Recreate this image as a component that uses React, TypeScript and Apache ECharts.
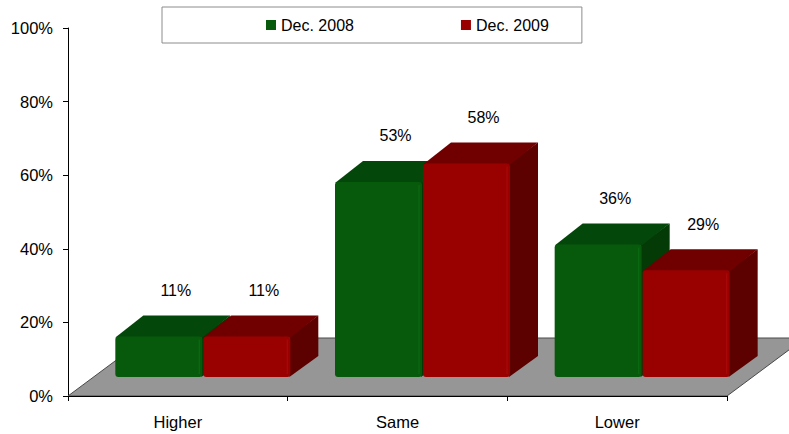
import React, { useEffect, useRef } from "react";
import * as echarts from "echarts";

const categories = ["Higher", "Same", "Lower"];
const seriesNames = ["Dec. 2008", "Dec. 2009"];
const dec2008 = [11, 53, 36];
const dec2009 = [11, 58, 29];
const yMin = 0;
const yMax = 100;
const yInterval = 20;

const palettes = [
  { front: "#075a0b", top: "#04470a", side: "#033a06", edge: "#0c6e12" },
  { front: "#990000", top: "#700000", side: "#5c0000", edge: "#ad0a0a" },
];

// 3D geometry (pixels)
const BAR_DX = 28;
const BAR_DY = 21;
const PLANE_DX = 25;
const PLANE_DY = 19;
const FLOOR_DX = 78;
const FLOOR_DY = 58;
const BAR_W = 87;
const FONT = "Arial, 'Liberation Sans', sans-serif";

function makeBarSeries(name: string, values: number[], si: number) {
  const pal = palettes[si];
  return {
    type: "custom",
    name,
    z: 3,
    itemStyle: { color: pal.front },
    data: values.map((v, i) => [i, v]),
    encode: { x: 0, y: 1 },
    renderItem: (params: any, api: any) => {
      const idx = api.value(0);
      const v = api.value(1);
      const base = api.coord([idx, 0]);
      const topP = api.coord([idx, v]);
      const c = base[0] + PLANE_DX;
      const yb = base[1] - PLANE_DY;
      const yt = topP[1] - PLANE_DY;
      const xl = si === 0 ? c - BAR_W - 0.5 : c + 0.5;
      const xr = xl + BAR_W;
      return {
        type: "group",
        children: [
          {
            type: "polygon",
            shape: {
              points: [
                [xr - 1, yt],
                [xr + BAR_DX, yt - BAR_DY],
                [xr + BAR_DX, yb - BAR_DY],
                [xr - 1, yb],
              ],
            },
            style: { fill: pal.side },
          },
          {
            type: "polygon",
            shape: {
              points: [
                [xl, yt + 1],
                [xl + BAR_DX, yt - BAR_DY],
                [xr + BAR_DX, yt - BAR_DY],
                [xr, yt + 1],
              ],
            },
            style: { fill: pal.top },
          },
          {
            type: "rect",
            shape: { x: xl, y: yt, width: BAR_W, height: yb - yt, r: 3 },
            style: { fill: pal.front },
          },
          {
            type: "line",
            shape: { x1: xr - 3, y1: yt + 3, x2: xr - 3, y2: yb - 3 },
            style: { stroke: pal.edge, lineWidth: 1.5, opacity: 0.7 },
          },
          {
            type: "text",
            x: xl + BAR_W / 2 + 17,
            y: yt - 46,
            style: {
              text: v + "%",
              fill: "#000",
              font: `16px ${FONT}`,
              align: "center",
              verticalAlign: "middle",
            },
          },
        ],
      };
    },
  };
}

export default function App() {
  const ref = useRef<HTMLDivElement>(null);
  useEffect(() => {
    if (!ref.current) return;
    const chart = echarts.init(ref.current, undefined, { renderer: "svg" });
    chart.setOption({
      animation: false,
      backgroundColor: "#ffffff",
      textStyle: { fontFamily: FONT },
      legend: {
        data: seriesNames,
        left: 162,
        top: 7,
        icon: "rect",
        itemWidth: 10,
        itemHeight: 10,
        itemGap: 107,
        padding: [10, 33, 10, 104],
        borderColor: "#8c8c8c",
        borderWidth: 1,
        selectedMode: false,
        textStyle: { fontSize: 16, color: "#000", fontFamily: FONT },
      },
      grid: { left: 68, top: 28, width: 659, height: 368 },
      xAxis: {
        type: "category",
        data: categories,
        z: 5,
        axisLine: { lineStyle: { color: "#000", width: 1 } },
        axisTick: { show: true, length: 5, lineStyle: { color: "#000" } },
        axisLabel: { fontSize: 16.5, color: "#000", margin: 17, fontFamily: FONT },
        splitLine: { show: false },
      },
      yAxis: {
        type: "value",
        min: yMin,
        max: yMax,
        interval: yInterval,
        axisLine: { show: true, lineStyle: { color: "#000", width: 1 } },
        axisTick: { show: true, length: 5, lineStyle: { color: "#000" } },
        axisLabel: {
          fontSize: 16.5,
          color: "#000",
          margin: 15,
          fontFamily: FONT,
          formatter: "{value}%",
        },
        splitLine: { show: false },
      },
      series: [
        {
          type: "custom",
          name: "floor",
          z: 1,
          silent: true,
          data: [[0, 0]],
          encode: { x: 0, y: 1 },
          renderItem: (params: any, api: any) => {
            const cs = params.coordSys;
            const x0 = cs.x;
            const x1 = cs.x + cs.width;
            const y0 = cs.y + cs.height;
            return {
              type: "polygon",
              shape: {
                points: [
                  [x0, y0],
                  [x1, y0],
                  [x1 + FLOOR_DX, y0 - FLOOR_DY],
                  [x0 + FLOOR_DX, y0 - FLOOR_DY],
                ],
              },
              style: { fill: "#969696", stroke: "#4a4a4a", lineWidth: 1 },
            };
          },
        },
        makeBarSeries(seriesNames[0], dec2008, 0),
        makeBarSeries(seriesNames[1], dec2009, 1),
      ],
    });
    return () => chart.dispose();
  }, []);
  return (
    <div
      ref={ref}
      style={{ position: "fixed", left: 0, top: 0, width: 789, height: 434 }}
    />
  );
}
